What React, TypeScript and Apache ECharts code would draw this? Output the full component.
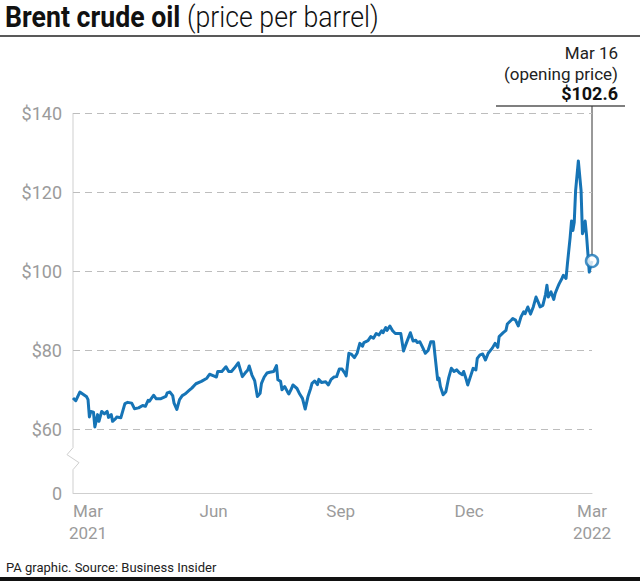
import React, { useEffect, useRef } from 'react';
import * as echarts from 'echarts';

const dates: string[] = [
  '2021-03-01','2021-03-03','2021-03-06','2021-03-11','2021-03-12','2021-03-13','2021-03-14','2021-03-16','2021-03-17','2021-03-19',
  '2021-03-20','2021-03-22','2021-03-24','2021-03-26','2021-03-27','2021-03-29','2021-03-30','2021-04-01','2021-04-02','2021-04-05',
  '2021-04-08','2021-04-10','2021-04-13','2021-04-15','2021-04-18','2021-04-21','2021-04-23','2021-04-25','2021-04-26','2021-04-29',
  '2021-05-01','2021-05-04','2021-05-08','2021-05-09','2021-05-11','2021-05-13','2021-05-14','2021-05-16','2021-05-18','2021-05-20',
  '2021-05-22','2021-05-25','2021-05-27','2021-05-30','2021-06-03',
  '2021-06-07','2021-06-09','2021-06-12','2021-06-14','2021-06-15','2021-06-18','2021-06-21','2021-06-23','2021-06-25','2021-06-27',
  '2021-06-30','2021-07-03','2021-07-05','2021-07-07','2021-07-08','2021-07-10','2021-07-12','2021-07-14','2021-07-16','2021-07-17',
  '2021-07-19','2021-07-21','2021-07-23','2021-07-26','2021-07-28','2021-07-29','2021-07-31','2021-08-01','2021-08-03','2021-08-05',
  '2021-08-06','2021-08-08','2021-08-09','2021-08-12','2021-08-14','2021-08-16','2021-08-18','2021-08-20','2021-08-22','2021-08-23',
  '2021-08-25','2021-08-27','2021-08-28','2021-08-30','2021-09-02','2021-09-04','2021-09-06','2021-09-08',
  '2021-09-10','2021-09-12','2021-09-14','2021-09-16','2021-09-17','2021-09-19','2021-09-21','2021-09-23','2021-09-25','2021-09-27',
  '2021-09-29','2021-09-30','2021-10-03','2021-10-05','2021-10-07','2021-10-09','2021-10-11','2021-10-13','2021-10-14','2021-10-16',
  '2021-10-17','2021-10-19','2021-10-21','2021-10-23','2021-10-25','2021-10-27','2021-10-29','2021-10-31','2021-11-03','2021-11-05',
  '2021-11-07','2021-11-08','2021-11-10','2021-11-12','2021-11-14','2021-11-16','2021-11-18','2021-11-20','2021-11-21','2021-11-23',
  '2021-11-24','2021-11-25','2021-11-27','2021-11-29','2021-12-01','2021-12-03','2021-12-05','2021-12-07','2021-12-09','2021-12-11',
  '2021-12-12','2021-12-14','2021-12-15','2021-12-17',
  '2021-12-19','2021-12-21','2021-12-22','2021-12-24','2021-12-26','2021-12-28','2021-12-30','2022-01-02','2022-01-04','2022-01-06',
  '2022-01-07','2022-01-10','2022-01-12','2022-01-13','2022-01-16','2022-01-17','2022-01-19','2022-01-21','2022-01-23','2022-01-25',
  '2022-01-26','2022-01-28','2022-01-30','2022-02-01','2022-02-03','2022-02-05','2022-02-06','2022-02-08','2022-02-10','2022-02-11',
  '2022-02-12','2022-02-14','2022-02-16','2022-02-17','2022-02-19','2022-02-20','2022-02-22','2022-02-23','2022-02-25','2022-02-26',
  '2022-02-28','2022-03-01','2022-03-02','2022-03-03','2022-03-04','2022-03-06','2022-03-08','2022-03-09','2022-03-10','2022-03-11',
  '2022-03-12','2022-03-13','2022-03-14','2022-03-15','2022-03-16',
];

const prices: number[] = [
  68.0, 67.3, 69.5, 68.3, 67.6, 63.2, 64.6, 64.4, 60.7, 63.8,
  62.1, 64.6, 64.0, 64.6, 63.1, 63.8, 62.1, 62.7, 63.2, 63.0,
  66.6, 66.9, 66.7, 65.3, 65.5, 66.1, 65.9, 67.4, 67.2, 68.7,
  67.8, 67.8, 68.4, 69.3, 69.5, 68.6, 66.7, 65.1, 67.6, 68.6,
  69.0, 69.9, 70.5, 71.6, 72.2,
  73.0, 74.0, 73.6, 73.3, 74.7, 74.7, 75.9, 74.7, 74.7, 75.5,
  76.9, 73.4, 74.3, 75.1, 76.1, 73.8, 72.4, 68.4, 69.2, 71.7,
  73.3, 74.3, 74.5, 74.7, 76.2, 72.6, 72.2, 70.1, 70.9, 69.6,
  69.0, 70.4, 71.3, 70.4, 69.0, 67.9, 65.2, 68.3, 70.4, 71.7,
  72.3, 71.4, 72.7, 71.9, 72.1, 71.3, 72.7, 73.3,
  73.4, 75.3, 75.3, 74.3, 73.6, 79.3, 79.0, 78.2, 79.3, 81.8,
  81.1, 82.0, 82.5, 83.5, 83.1, 84.3, 83.9, 85.0, 84.5, 85.8,
  85.1, 86.2, 85.0, 84.3, 84.3, 84.3, 79.9, 81.8, 84.5, 82.4,
  82.6, 82.0, 82.2, 80.8, 79.3, 80.0, 82.2, 82.2, 78.9, 72.6,
  73.0, 70.9, 68.8, 69.6, 73.0, 75.5, 74.7, 75.1, 74.3, 73.9,
  74.7, 72.6, 71.3, 73.4,
  75.5, 75.1, 78.0, 78.9, 79.1, 77.6, 79.3, 80.6, 81.8, 80.8,
  83.5, 84.5, 85.1, 86.7, 87.7, 88.1, 87.7, 86.2, 88.5, 89.8,
  89.3, 91.0, 89.2, 91.0, 93.5, 91.9, 91.0, 91.4, 94.2, 96.5,
  93.5, 94.8, 92.9, 94.4, 96.1, 96.9, 98.2, 99.0, 98.2, 101.9,
  108.6, 112.7, 110.3, 112.4, 120.4, 127.9, 120.4, 109.5, 110.5, 112.7,
  109.1, 104.5, 99.8, 101.5, 102.6,
];

const yGridValues = [60, 80, 100, 120, 140];
const yAxisFloor = 44; // broken axis: its bottom is labelled 0
const yLabelValues = [44, 60, 80, 100, 120, 140];
const xLabelDates = ['2021-03-12', '2021-06-12', '2021-09-13', '2021-12-16', '2022-03-16'];
const xLabelMonths = ['Mar', 'Jun', 'Sep', 'Dec', 'Mar'];
const xLabelYears = ['2021', '', '', '', '2022'];

const titleBold = 'Brent crude oil';
const titleLight = '(price per barrel)';
const annotationDate = 'Mar 16';
const annotationNote = '(opening price)';
const annotationValue = '$102.6';
const footerText = 'PA graphic. Source: Business Insider';

const BLUE = '#1674b6';
const GREY = '#9b9b9b';
const FONT = 'Roboto, "Noto Sans", sans-serif';

const ts = (s: string) => {
  const [y, m, d] = s.split('-').map(Number);
  return new Date(y, m - 1, d).getTime();
};

export default function App() {
  const ref = useRef<HTMLDivElement>(null);

  useEffect(() => {
    if (!ref.current) return;
    const chart = echarts.init(ref.current, null, { renderer: 'svg' });
    const xMin = ts(dates[0]);
    const xMax = ts(dates[dates.length - 1]);
    const xLabelTs = xLabelDates.map(ts);
    const seriesData = dates.map((d, i) => [ts(d), prices[i]]);
    const last = seriesData[seriesData.length - 1];

    const option: any = {
      animation: false,
      backgroundColor: '#fff',
      grid: { left: 73, right: 48, top: 113, bottom: 88, containLabel: false },
      xAxis: {
        type: 'value',
        min: xMin,
        max: xMax,
        scale: true,
        axisLine: { show: true, lineStyle: { color: '#cfcfcf', width: 1 } },
        axisTick: { show: false },
        splitLine: { show: false },
        axisLabel: {
          customValues: xLabelTs,
          hideOverlap: false,
          margin: 7,
          color: GREY,
          fontSize: 17,
          lineHeight: 22,
          fontFamily: FONT,
          formatter: (v: number) => {
            let best = 0;
            xLabelTs.forEach((t, i) => { if (Math.abs(t - v) < Math.abs(xLabelTs[best] - v)) best = i; });
            const m = xLabelMonths[best];
            const y = xLabelYears[best];
            return y ? m + '\n' + y : m;
          },
        },
      },
      yAxis: {
        type: 'value',
        min: yAxisFloor,
        max: 140,
        axisLine: { show: false },
        axisTick: { show: false },
        splitLine: { show: false },
        axisLabel: {
          customValues: yLabelValues,
          margin: 11,
          color: GREY,
          fontSize: 18,
          fontFamily: FONT,
          formatter: (v: number) => (v === yAxisFloor ? '0' : '$' + v),
        },
      },
      series: [
        {
          type: 'line',
          data: seriesData,
          showSymbol: false,
          z: 3,
          lineStyle: { color: BLUE, width: 3, join: 'round' },
          markLine: {
            silent: true,
            z: 1,
            symbol: ['none', 'none'],
            label: { show: false },
            lineStyle: { color: '#bdbdbd', width: 1, type: [7, 5] },
            data: yGridValues.map((v) => ({ yAxis: v })),
          },
        },
        {
          type: 'scatter',
          data: [last],
          z: 5,
          symbol: 'circle',
          symbolSize: 12,
          itemStyle: { color: '#fff', borderColor: BLUE, borderWidth: 2.5 },
        },
      ],
    };
    chart.setOption(option);

    const [x0, yTop] = chart.convertToPixel({ gridIndex: 0 }, [xMin, 140]);
    const [, yBottom] = chart.convertToPixel({ gridIndex: 0 }, [xMin, yAxisFloor]);
    const [, y60] = chart.convertToPixel({ gridIndex: 0 }, [xMin, 60]);
    const [px, py] = chart.convertToPixel({ gridIndex: 0 }, last);
    const hY = yTop - 7;
    const textRight = px + 26;

    chart.setOption({
      graphic: [
        {
          type: 'text', x: 5, y: 3, scaleX: 0.92,
          style: {
            text: '{b|' + titleBold + '} {r|' + titleLight + '}',
            fontSize: 29, fontFamily: FONT, fill: '#111',
            rich: {
              b: { fontWeight: 'bold', fontSize: 29, fontFamily: FONT, fill: '#111' },
              r: { fontWeight: 300, fontSize: 29, fontFamily: FONT, fill: '#111' },
            },
          },
        },
        { type: 'line', shape: { x1: 0, y1: 36, x2: 640, y2: 36 }, style: { stroke: '#222', lineWidth: 1.3 } },
        {
          type: 'polyline',
          shape: { points: [[x0, yTop], [x0, y60 + 18], [x0 - 6, y60 + 25], [x0 + 6, y60 + 33], [x0, y60 + 40], [x0, yBottom]] },
          style: { stroke: '#cfcfcf', lineWidth: 1, fill: null },
        },
        { type: 'line', shape: { x1: px - 96, y1: hY, x2: px + 33, y2: hY }, style: { stroke: '#555', lineWidth: 1.6 } },
        { type: 'line', shape: { x1: px, y1: hY, x2: px, y2: py - 6 }, style: { stroke: '#333', lineWidth: 1 } },
        {
          type: 'text', x: textRight, y: hY - 4,
          style: { text: annotationValue, align: 'right', verticalAlign: 'bottom', fontSize: 18, fontWeight: 'bold', fontFamily: FONT, fill: '#111' },
        },
        {
          type: 'text', x: textRight, y: hY - 24,
          style: { text: annotationNote, align: 'right', verticalAlign: 'bottom', fontSize: 17, fontFamily: FONT, fill: '#222' },
        },
        {
          type: 'text', x: textRight, y: hY - 45,
          style: { text: annotationDate, align: 'right', verticalAlign: 'bottom', fontSize: 17, fontFamily: FONT, fill: '#222' },
        },
        {
          type: 'text', x: 6, y: 567,
          style: { text: footerText, verticalAlign: 'middle', fontSize: 13, fontFamily: FONT, fill: '#222' },
        },
        { type: 'rect', shape: { x: 0, y: 577, width: 640, height: 4 }, style: { fill: '#111' } },
      ],
    });

    return () => chart.dispose();
  }, []);

  return (
    <div
      ref={ref}
      style={{ position: 'absolute', left: 0, top: 0, width: 640, height: 581, background: '#fff' }}
    />
  );
}
